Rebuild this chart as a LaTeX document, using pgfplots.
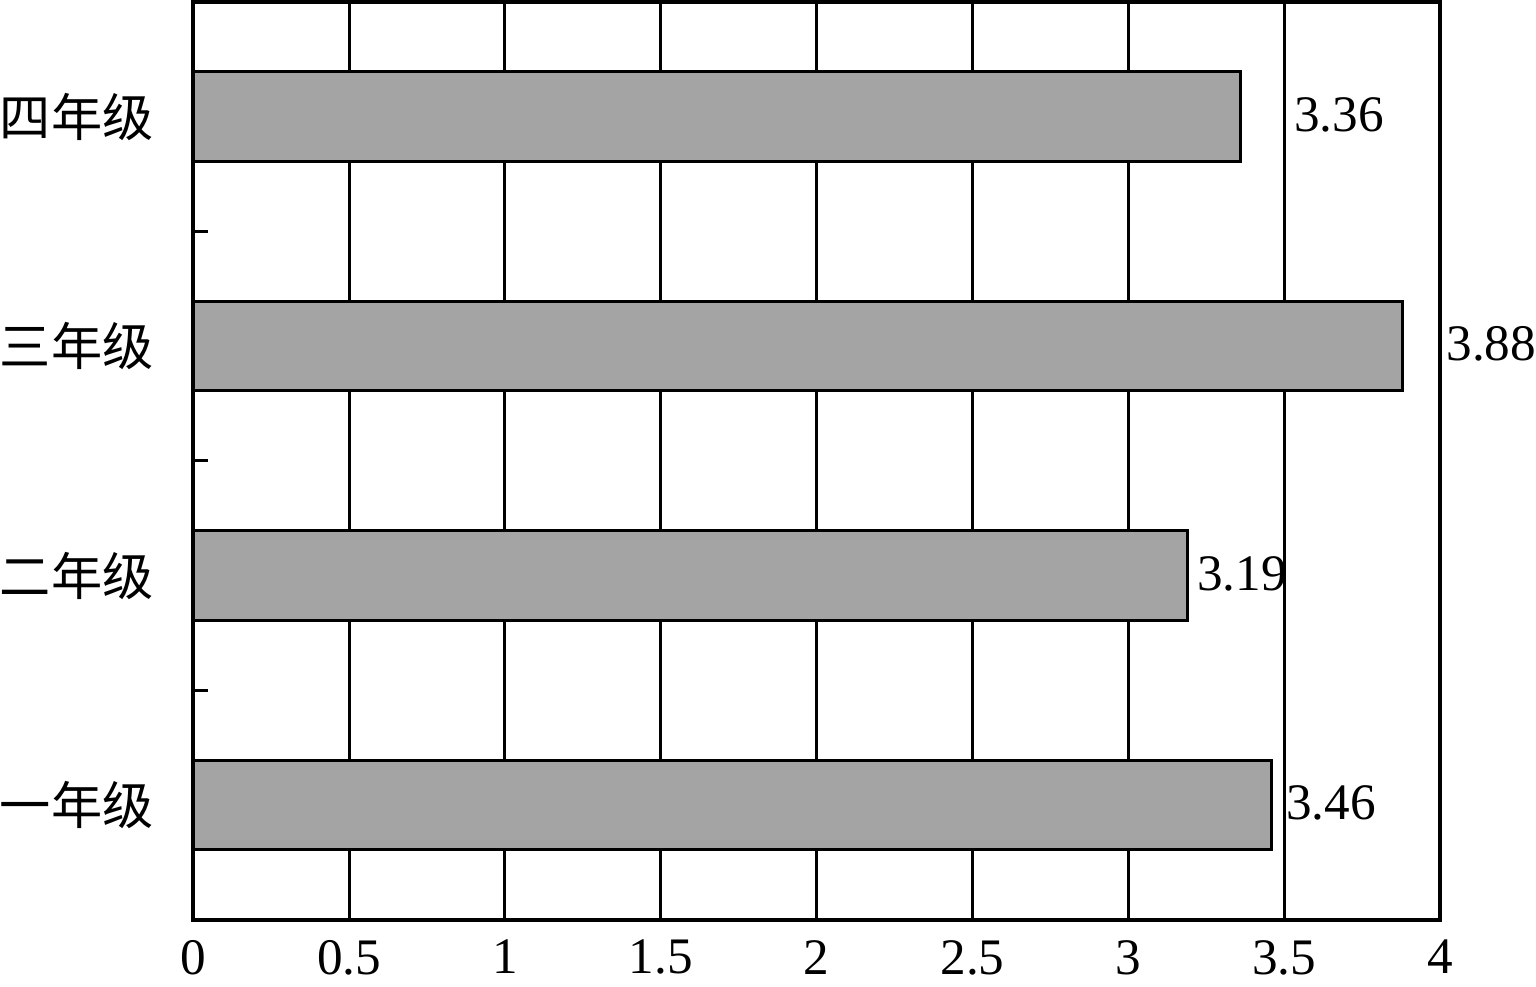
\documentclass[border=0pt]{standalone}
\usepackage{pgfplots}
\pgfplotsset{compat=1.18}
\usepackage{pgfplotstable}
\usepackage{fontspec}
\setmainfont{Liberation Serif}
\newfontfamily\cjk{Noto Sans CJK SC}
\newcommand\lf{\fontsize{25.5}{30}\selectfont}
\definecolor{bargray}{RGB}{164,164,164}

% y = category position, x = value, dx = label offset (pt)
\pgfplotstableread{
y x dx
0 3.46 6.5
1 3.19 4
2 3.88 21
3 3.36 26
}\datatable

\begin{document}
\lf
\begin{tikzpicture}
\begin{axis}[
    width=621pt, height=457pt, scale only axis,
    xbar, bar width=0.39,
    xmin=0, xmax=4, ymin=-0.5, ymax=3.5,
    xtick={0,0.5,...,4},
    ytick={0,1,2,3},
    yticklabels={\cjk 一年级, \cjk 二年级, \cjk 三年级, \cjk 四年级},
    minor ytick={0.5,1.5,2.5,3.5},
    xmajorgrids, grid style={black, line width=1.5pt},
    axis line style={line width=2pt},
    tick style={black, line width=1.5pt},
    major tick length=0pt, minor tick length=7.5pt, tick align=inside,
    ytick pos=left, xtick pos=bottom,
    /pgf/number format/assume math mode=true,
    ticklabel style={font=\lf, inner sep=0pt},
    yticklabel style={xshift=-19.5pt},
    xticklabel style={yshift=-10pt, text depth=6pt},
    nodes near coords,
    point meta=explicit symbolic,
    visualization depends on={\thisrow{dx} \as \dx},
    nodes near coords style={font=\lf, anchor=west, inner sep=0pt, xshift=\dx pt, yshift=1pt},
]
\addplot[fill=bargray, draw=black, line width=1.5pt]
    table[x=x, y=y, meta=x] {\datatable};
\end{axis}
\end{tikzpicture}
\end{document}
